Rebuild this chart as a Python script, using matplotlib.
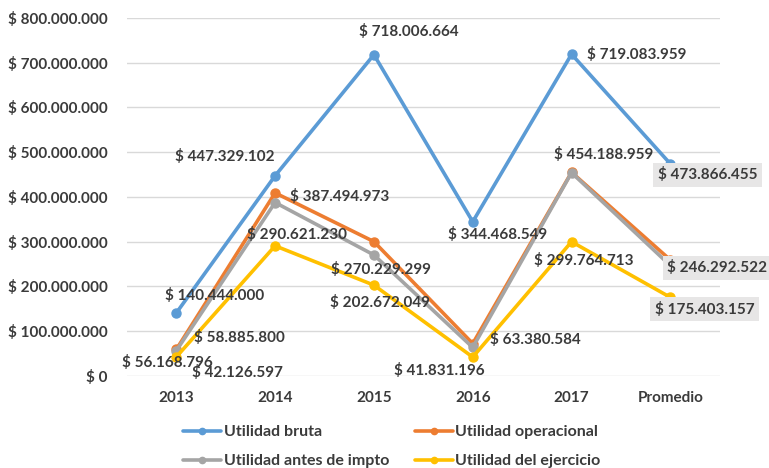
import matplotlib.pyplot as plt

plt.rcParams['font.family'] = ['Lato', 'DejaVu Sans']

categorias = ['2013', '2014', '2015', '2016', '2017', 'Promedio']

utilidad_bruta = [140444000, 447329102, 718006664, 344468549, 719083959, 473866455]
utilidad_operacional = [58885800, 409000000, 300000000, 72000000, 455000000, 258977160]
utilidad_antes_impto = [56168796, 387494973, 270229299, 63380584, 454188959, 246292522]
utilidad_ejercicio = [42126597, 290621230, 202672049, 41831196, 299764713, 175403157]

colores = {
    'bruta': '#5B9BD5',
    'operacional': '#ED7D31',
    'antes': '#A5A5A5',
    'ejercicio': '#FFC000',
}
texto = '#3B3B3B'


def pesos(v):
    return '$ ' + f'{v:,.0f}'.replace(',', '.')


fig = plt.figure(figsize=(7.69, 4.68), dpi=100)
ax = fig.add_axes([0.165, 0.197, 0.771, 0.7645])

x = list(range(len(categorias)))
estilo = dict(lw=2.6, marker='o', ms=6.5, solid_capstyle='round', solid_joinstyle='round')
l1, = ax.plot(x, utilidad_bruta, color=colores['bruta'], label='Utilidad bruta', **estilo)
l2, = ax.plot(x, utilidad_operacional, color=colores['operacional'], label='Utilidad operacional', **estilo)
l3, = ax.plot(x, utilidad_antes_impto, color=colores['antes'], label='Utilidad antes de impto', **estilo)
l4, = ax.plot(x, utilidad_ejercicio, color=colores['ejercicio'], label='Utilidad del ejercicio', **estilo)

# etiquetas de datos: (serie, indice, desplazamiento en pixeles, con recuadro)
etiquetas = [
    (utilidad_bruta, 0, (38, 17), False),
    (utilidad_bruta, 1, (-50, 19), False),
    (utilidad_bruta, 2, (35, 23), False),
    (utilidad_bruta, 3, (25, -13), False),
    (utilidad_bruta, 4, (65, 0), False),
    (utilidad_bruta, 5, (37, -11), True),
    (utilidad_operacional, 0, (63, 12), False),
    (utilidad_antes_impto, 0, (-9, -12), False),
    (utilidad_antes_impto, 1, (65, 6), False),
    (utilidad_antes_impto, 2, (7, -15), False),
    (utilidad_antes_impto, 3, (63, 8), False),
    (utilidad_antes_impto, 4, (32, 18), False),
    (utilidad_antes_impto, 5, (47, -2), True),
    (utilidad_ejercicio, 0, (61, -16), False),
    (utilidad_ejercicio, 1, (22, 11), False),
    (utilidad_ejercicio, 2, (6, -17), False),
    (utilidad_ejercicio, 3, (-33, -13), False),
    (utilidad_ejercicio, 4, (12, -19), False),
    (utilidad_ejercicio, 5, (34, -12), True),
]
for serie, i, (dx, dy), caja in etiquetas:
    bbox = dict(boxstyle='square,pad=0.3', fc='#E7E6E6', ec='none') if caja else None
    ax.annotate(pesos(serie[i]), (x[i], serie[i]), xytext=(dx, dy),
                textcoords='offset pixels', ha='center', va='center',
                fontsize=11, fontweight='bold', color=texto, bbox=bbox,
                annotation_clip=False, zorder=5)

ax.set_xlim(-0.5, len(categorias) - 0.5)
ax.set_ylim(0, 800000000)
ax.set_yticks(range(0, 800000001, 100000000))
ax.set_yticklabels([pesos(v) for v in range(0, 800000001, 100000000)])
ax.set_xticks(x)
ax.set_xticklabels(categorias)
ax.tick_params(length=0, labelsize=11, labelcolor=texto, pad=14)
ax.tick_params(axis='x', pad=11)
for lbl in ax.get_xticklabels() + ax.get_yticklabels():
    lbl.set_fontweight('bold')
ax.grid(axis='y', color='#D9D9D9', lw=1)
ax.set_axisbelow(True)
for s in ax.spines.values():
    s.set_visible(False)

leg = fig.legend([l1, l3, l2, l4],
                 ['Utilidad bruta', 'Utilidad antes de impto', 'Utilidad operacional', 'Utilidad del ejercicio'],
                 ncol=2, loc='upper left', bbox_to_anchor=(0.238, 0.092), frameon=False,
                 handlelength=2.4, handletextpad=0.15, columnspacing=1.6, labelspacing=0.95,
                 prop=dict(size=11.5, weight='bold'), borderaxespad=0, borderpad=0)
for t in leg.get_texts():
    t.set_color(texto)
for h in leg.legend_handles:
    h.set_markersize(4.5)

fig.savefig('out.png', dpi=100)
